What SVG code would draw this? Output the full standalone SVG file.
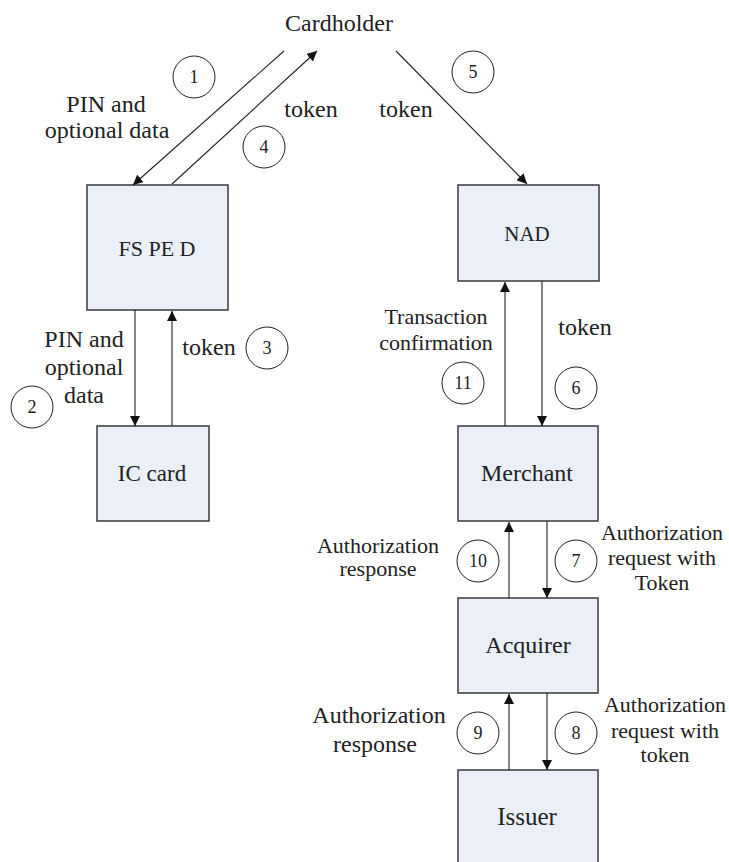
<svg xmlns="http://www.w3.org/2000/svg" width="729" height="862" viewBox="0 0 729 862">
<defs>
<marker id="ah" viewBox="0 0 10 10" refX="10" refY="5" markerWidth="10" markerHeight="10" markerUnits="userSpaceOnUse" orient="auto">
<path d="M0,0 L10,5 L0,10 z" fill="#111"/>
</marker>
<style>
.box{fill:#eaeff8;stroke:#3a3a3a;stroke-width:1.5}
.lbl{font-family:"Liberation Serif","Times New Roman",serif;fill:#222;text-anchor:middle}
.num{font-family:"Liberation Serif","Times New Roman",serif;font-size:18px;fill:#222;text-anchor:middle}
.circ{fill:none;stroke:#222;stroke-width:1}
.con{stroke:#222;stroke-width:1.1;fill:none;marker-end:url(#ah)}
</style>
</defs>
<rect width="729" height="862" fill="#fff"/>

<g id="cardholder"><text class="lbl" x="339" y="31" font-size="24">Cardholder</text></g>
<g id="fsped"><rect class="box" x="87" y="185" width="141" height="125"/><text class="lbl" x="157" y="256" font-size="22">FS PE D</text></g>
<g id="iccard"><rect class="box" x="97" y="426" width="112" height="95"/><text class="lbl" x="152" y="481" font-size="23">IC card</text></g>
<g id="nad"><rect class="box" x="458" y="185" width="141" height="96"/><text class="lbl" x="527" y="241" font-size="21">NAD</text></g>
<g id="merchant"><rect class="box" x="458" y="426" width="140" height="95"/><text class="lbl" x="527" y="481" font-size="24">Merchant</text></g>
<g id="acquirer"><rect class="box" x="458" y="598" width="140" height="95"/><text class="lbl" x="528" y="653" font-size="24">Acquirer</text></g>
<g id="issuer"><rect class="box" x="458" y="770" width="140" height="100"/><text class="lbl" x="527" y="825" font-size="25">Issuer</text></g>

<g id="connectors">
<line class="con" x1="284" y1="51" x2="133" y2="185"/>
<line class="con" x1="172" y1="184" x2="317" y2="51"/>
<line class="con" x1="396" y1="51" x2="527" y2="184"/>
<line class="con" x1="135" y1="310" x2="135" y2="426"/>
<line class="con" x1="172" y1="426" x2="172" y2="311"/>
<line class="con" x1="542" y1="281" x2="542" y2="426"/>
<line class="con" x1="505" y1="426" x2="505" y2="282"/>
<line class="con" x1="547" y1="521" x2="547" y2="598"/>
<line class="con" x1="509" y1="598" x2="509" y2="522"/>
<line class="con" x1="547" y1="693" x2="547" y2="770"/>
<line class="con" x1="509" y1="770" x2="509" y2="694"/>
</g>

<g id="labels">
<text class="lbl" x="106" y="112" font-size="24">PIN and</text>
<text class="lbl" x="107" y="138" font-size="24">optional data</text>
<text class="lbl" x="311" y="117" font-size="24">token</text>
<text class="lbl" x="406" y="117" font-size="24">token</text>
<text class="lbl" x="84" y="347" font-size="24">PIN and</text>
<text class="lbl" x="84" y="375" font-size="24">optional</text>
<text class="lbl" x="84" y="403" font-size="24">data</text>
<text class="lbl" x="209" y="355" font-size="24">token</text>
<text class="lbl" x="436" y="324" font-size="22">Transaction</text>
<text class="lbl" x="436" y="350" font-size="22">confirmation</text>
<text class="lbl" x="585" y="335" font-size="24">token</text>
<text class="lbl" x="378" y="553" font-size="22">Authorization</text>
<text class="lbl" x="378" y="576" font-size="22">response</text>
<text class="lbl" x="662" y="540" font-size="22">Authorization</text>
<text class="lbl" x="662" y="565" font-size="22">request with</text>
<text class="lbl" x="662" y="590" font-size="22">Token</text>
<text class="lbl" x="379" y="723" font-size="24">Authorization</text>
<text class="lbl" x="375" y="752" font-size="24">response</text>
<text class="lbl" x="665" y="712" font-size="22">Authorization</text>
<text class="lbl" x="665" y="738" font-size="22">request with</text>
<text class="lbl" x="665" y="762" font-size="22">token</text>
</g>

<g id="steps">
<circle class="circ" cx="194" cy="77" r="21"/><text class="num" x="194" y="83">1</text>
<circle class="circ" cx="32" cy="407" r="21"/><text class="num" x="32" y="413">2</text>
<circle class="circ" cx="267" cy="348" r="21"/><text class="num" x="267" y="354">3</text>
<circle class="circ" cx="264" cy="147" r="21"/><text class="num" x="264" y="153">4</text>
<circle class="circ" cx="473" cy="72" r="21"/><text class="num" x="473" y="78">5</text>
<circle class="circ" cx="576" cy="388" r="21"/><text class="num" x="576" y="394">6</text>
<circle class="circ" cx="576" cy="561" r="21"/><text class="num" x="576" y="567">7</text>
<circle class="circ" cx="576" cy="733" r="21"/><text class="num" x="576" y="739">8</text>
<circle class="circ" cx="478" cy="733" r="21"/><text class="num" x="478" y="739">9</text>
<circle class="circ" cx="478" cy="561" r="21"/><text class="num" x="478" y="567">10</text>
<circle class="circ" cx="463" cy="383" r="21"/><text class="num" x="463" y="389">11</text>
</g>
</svg>
